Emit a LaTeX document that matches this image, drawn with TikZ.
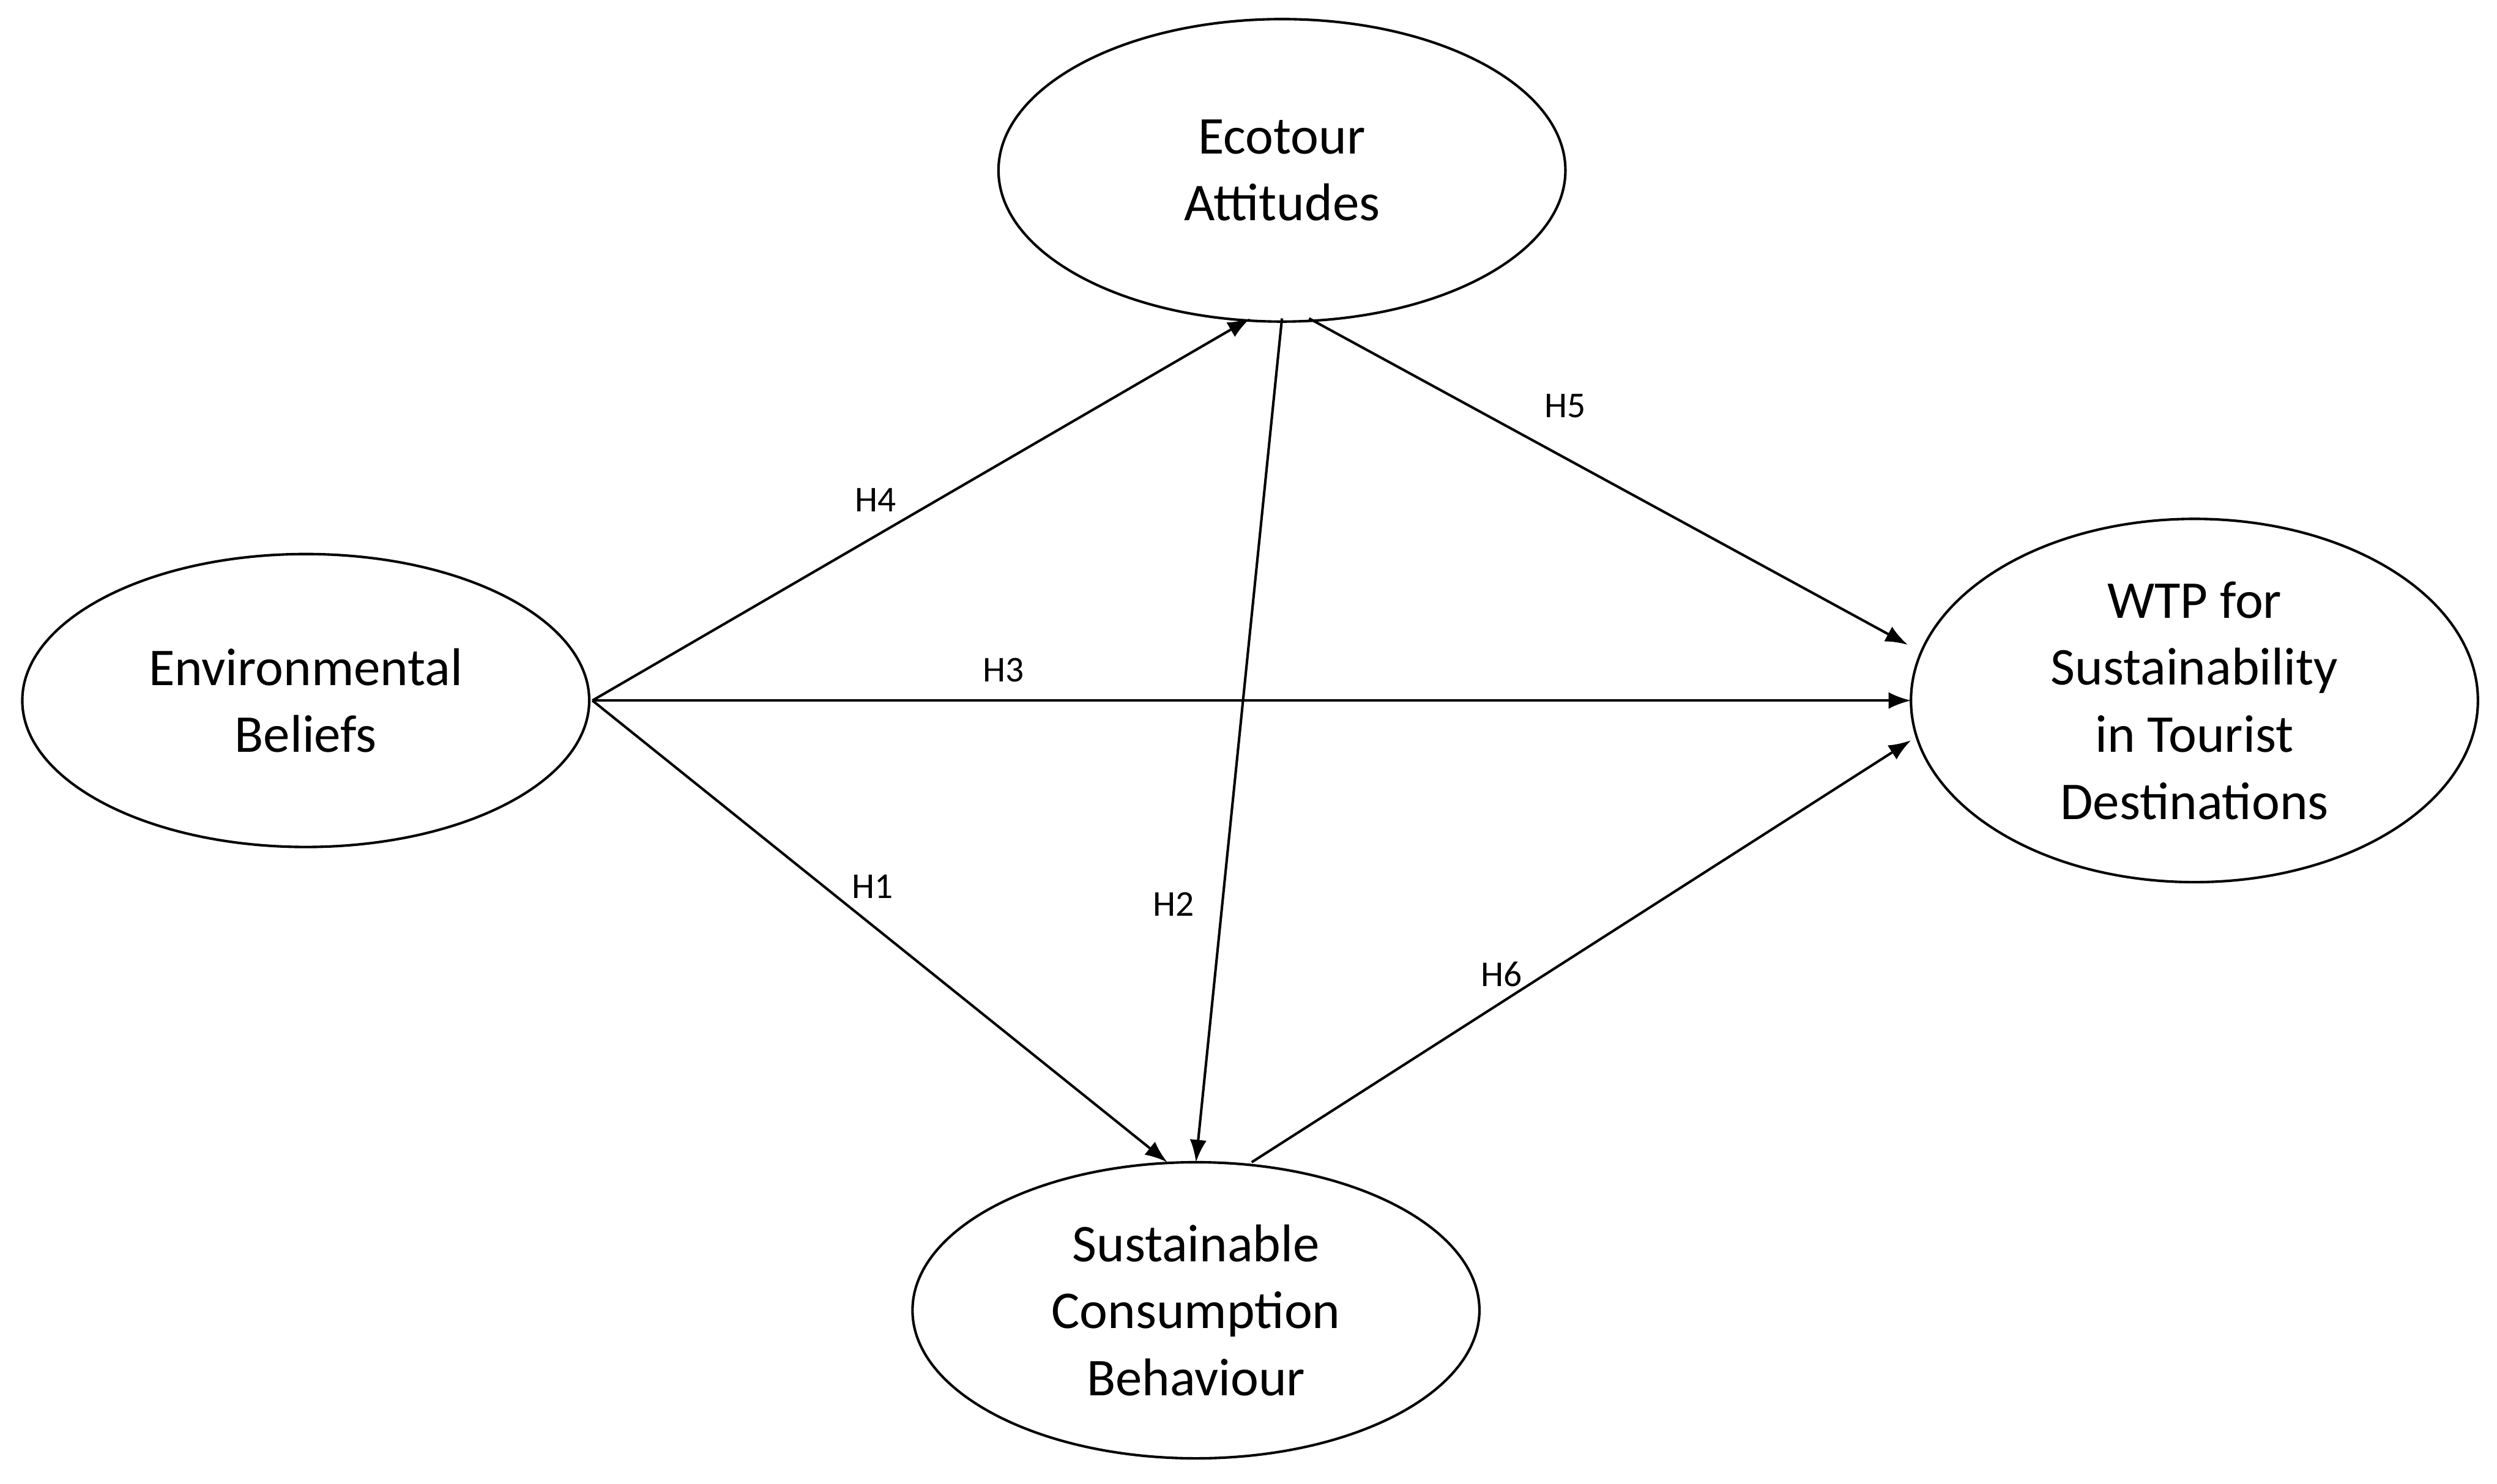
\documentclass[tikz,border=0pt]{standalone}
\usepackage{fontspec}
\setmainfont{Carlito}
\usetikzlibrary{shapes.geometric,arrows.meta}
\begin{document}
\begin{tikzpicture}[x=0.02cm,y=-0.02cm,
  lat/.style={draw,ellipse,line width=0.9pt,minimum width=356*0.02cm,align=center,font=\fontsize{19}{24}\selectfont},
  arr/.style={line width=0.9pt,-{Latex[length=8pt,width=6pt]}},
  lab/.style={font=\fontsize{13}{15}\selectfont}]
\useasboundingbox (0,0) rectangle (1568,932);
\node[lat,minimum height=184*0.02cm] (eb) at (192,440) {Environmental\\Beliefs};
\node[lat,minimum height=190*0.02cm] (ea) at (805,107) {Ecotour\\Attitudes};
\node[lat,minimum height=190*0.02cm] (wtp) at (1378,440) {WTP for\\Sustainability\\in Tourist\\Destinations};
\node[lat,minimum height=186*0.02cm] (scb) at (751,823) {Sustainable\\Consumption\\Behaviour};
\coordinate (ebR) at (372,440);
\coordinate (eaB1) at (785,200);
\coordinate (eaB2) at (805,200);
\coordinate (eaB3) at (822,200);
\coordinate (scT1) at (733,730);
\coordinate (scT2) at (751,730);
\coordinate (scT3) at (786,730);
\coordinate (w1) at (1198,405);
\coordinate (w2) at (1200,440);
\coordinate (w3) at (1200,465);
\draw[arr] (ebR) -- (eaB1);
\draw[arr] (ebR) -- (w2);
\draw[arr] (ebR) -- (scT1);
\draw[arr] (eaB2) -- (scT2);
\draw[arr] (eaB3) -- (w1);
\draw[arr] (scT3) -- (w3);
\node[lab] (h4) at (550,314) {H4};
\node[lab] (h3) at (630,421) {H3};
\node[lab] (h1) at (548,557) {H1};
\node[lab] (h2) at (737,568) {H2};
\node[lab] (h5) at (983,255) {H5};
\node[lab] (h6) at (943,612) {H6};
\end{tikzpicture}
\end{document}
